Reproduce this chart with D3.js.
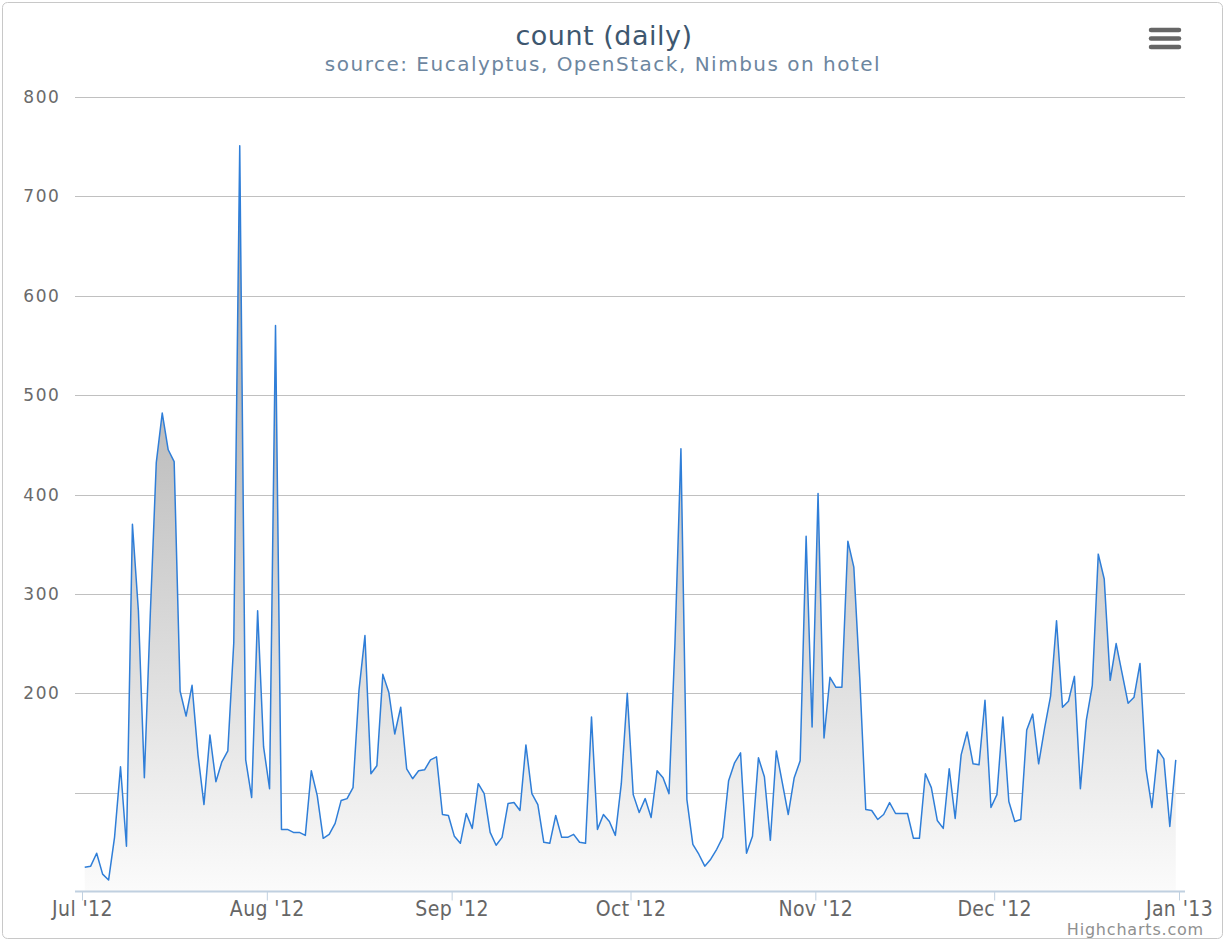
<!DOCTYPE html>
<html>
<head>
<meta charset="utf-8">
<script src="https://cdn.jsdelivr.net/npm/d3@7"></script>
<style>
body { margin: 0; background: #fff; }
svg { display: block; font-family: "DejaVu Sans", Verdana, sans-serif; }
</style>
</head>
<body>
<div id="chart"></div>
<script>
// daily counts, one array per month (Jul 1 2012 .. Dec 31 2012)
let julCounts = [25, 26, 39, 18, 12, 55, 126, 46, 370, 283, 115, 280, 432, 482, 445, 433, 202, 177, 208, 138, 88, 158, 111, 131, 142, 251, 751, 133, 95, 283, 146];
let augCounts = [104, 570, 63, 63, 60, 60, 57, 122, 97, 54, 58, 69, 92, 94, 105, 203, 258, 119, 127, 219, 201, 159, 186, 124, 114, 122, 123, 133, 136, 78, 77];
let sepCounts = [56, 49, 79, 64, 109, 99, 60, 47, 55, 89, 90, 82, 148, 99, 88, 50, 49, 77, 55, 55, 58, 50, 49, 176, 63, 78, 71, 57, 109, 200];
let octCounts = [98, 80, 94, 75, 122, 115, 99, 250, 446, 93, 48, 38, 26, 33, 43, 55, 112, 130, 140, 39, 56, 135, 116, 52, 142, 110, 78, 115, 132, 358, 166];
let novCounts = [401, 155, 216, 206, 206, 353, 327, 215, 83, 82, 73, 78, 90, 79, 79, 79, 54, 54, 119, 105, 72, 64, 124, 74, 138, 161, 129, 128, 193, 85];
let decCounts = [98, 176, 91, 71, 73, 163, 179, 129, 165, 197, 273, 186, 192, 217, 104, 173, 208, 340, 315, 213, 250, 220, 190, 196, 230, 124, 85, 143, 134, 66, 133];

let monthTicks = ["2012-07-01", "2012-08-01", "2012-09-01", "2012-10-01", "2012-11-01", "2012-12-01", "2013-01-01"];
let yGrid = [100, 200, 300, 400, 500, 600, 700, 800];
let yLabels = [200, 300, 400, 500, 600, 700, 800];

let titleText = "count (daily)";
let subtitleText = "source: Eucalyptus, OpenStack, Nimbus on hotel";

let width = 1225, height = 941;
let plot = { left: 75, right: 1185, top: 97, bottom: 892 };

// glue the months together, each point sits a bit after midnight like the original
let counts = [].concat(julCounts, augCounts, sepCounts, octCounts, novCounts, decCounts);
let first = new Date(Date.UTC(2012, 6, 1, 11));
let data = counts.map((v, i) => ({ date: d3.utcDay.offset(first, i), value: v }));

let x = d3.scaleUtc()
    .domain([new Date(Date.UTC(2012, 6, 1)), new Date(Date.UTC(2013, 0, 1))])
    .range([82, 1179]);

let y = d3.scaleLinear()
    .domain([0, 800])
    .range([plot.bottom, plot.top]);

var svg = d3.select("#chart")
    .append("svg")
    .attr("width", width)
    .attr("height", height);

// outer border
svg.append("rect")
    .attr("x", 2.5).attr("y", 2.5)
    .attr("width", width - 5).attr("height", height - 5)
    .attr("rx", 5)
    .attr("fill", "#fff")
    .attr("stroke", "#c8c8c8");

let defs = svg.append("defs");
let grad = defs.append("linearGradient")
    .attr("id", "areaFill")
    .attr("gradientUnits", "userSpaceOnUse")
    .attr("x1", 0).attr("y1", plot.top)
    .attr("x2", 0).attr("y2", plot.bottom);
grad.append("stop").attr("offset", 0).attr("stop-color", "#939393");
grad.append("stop").attr("offset", 1).attr("stop-color", "#fbfbfb");

// grid
svg.append("g")
    .selectAll("line")
    .data(yGrid)
    .enter()
    .append("line")
    .attr("x1", plot.left).attr("x2", plot.right)
    .attr("y1", d => Math.round(y(d)) + 0.5)
    .attr("y2", d => Math.round(y(d)) + 0.5)
    .style("stroke", "#c0c0c0")
    .style("stroke-width", 1);

svg.append("g")
    .selectAll("text")
    .data(yLabels)
    .enter()
    .append("text")
    .attr("x", 60.5)
    .attr("y", d => y(d) + 6)
    .attr("text-anchor", "end")
    .style("font-size", "17px")
    .style("letter-spacing", "1.6px")
    .style("fill", "#6a6a6a")
    .text(d => d);

// area + line
let area = d3.area()
    .x(d => x(d.date))
    .y0(plot.bottom)
    .y1(d => y(d.value));

let line = d3.line()
    .x(d => x(d.date))
    .y(d => y(d.value));

svg.append("path")
    .datum(data)
    .attr("d", area)
    .attr("fill", "url(#areaFill)");

svg.append("path")
    .datum(data)
    .attr("d", line)
    .attr("fill", "none")
    .style("stroke", "#2f7ed8")
    .style("stroke-width", 1.5)
    .style("stroke-linejoin", "round");

// x axis
let xAxis = d3.axisBottom(x)
    .tickValues(monthTicks.map(s => new Date(s + "T00:00:00Z")))
    .tickFormat(d3.utcFormat("%b '%y"))
    .tickSize(9)
    .tickPadding(1);

let gx = svg.append("g")
    .attr("transform", "translate(0," + (plot.bottom - 0.5) + ")")
    .call(xAxis);

gx.select(".domain").remove();
gx.insert("line", ":first-child")
    .attr("x1", plot.left).attr("x2", plot.right)
    .attr("y1", 0).attr("y2", 0)
    .style("stroke", "#c0d0e0")
    .style("stroke-width", 2);
gx.selectAll(".tick line").style("stroke", "#c0d0e0");
gx.selectAll(".tick text")
    .style("font-family", "\"DejaVu Sans Condensed\", \"DejaVu Sans\", sans-serif")
    .style("font-size", "21px")
    .style("letter-spacing", "0.4px")
    .style("fill", "#666");

// titles
svg.append("text")
    .attr("x", 604).attr("y", 45)
    .attr("text-anchor", "middle")
    .style("font-size", "27px")
    .style("letter-spacing", "0.5px")
    .style("fill", "#3e576f")
    .text(titleText);

svg.append("text")
    .attr("x", 603).attr("y", 71)
    .attr("text-anchor", "middle")
    .style("font-size", "20px")
    .style("letter-spacing", "1.5px")
    .style("fill", "#6d869f")
    .text(subtitleText);

// menu button
svg.append("g")
    .selectAll("line")
    .data([30, 38.5, 47])
    .enter()
    .append("line")
    .attr("x1", 1151).attr("x2", 1179)
    .attr("y1", d => d).attr("y2", d => d)
    .style("stroke", "#666")
    .style("stroke-width", 4.5)
    .style("stroke-linecap", "round");

// credits
svg.append("text")
    .attr("x", 1204).attr("y", 935)
    .attr("text-anchor", "end")
    .style("font-size", "16px")
    .style("letter-spacing", "0.8px")
    .style("fill", "#909090")
    .text("Highcharts.com");
</script>
</body>
</html>
